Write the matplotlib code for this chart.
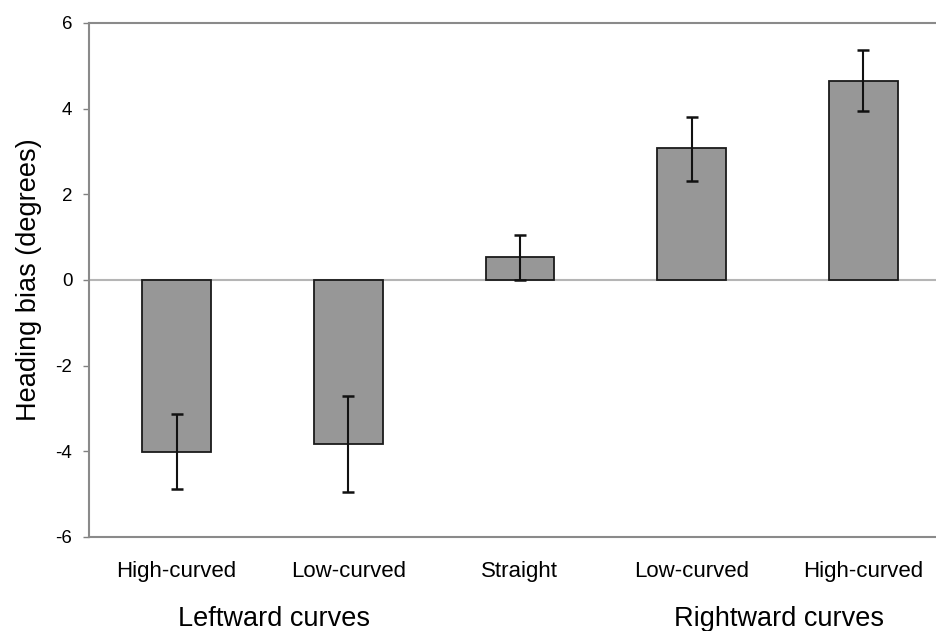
import matplotlib.pyplot as plt
import numpy as np

plt.rcParams['font.family'] = ['Liberation Sans', 'DejaVu Sans']

# data
categories = ['High-curved', 'Low-curved', 'Straight', 'Low-curved', 'High-curved']
bias = [-4.01, -3.84, 0.53, 3.07, 4.65]
err_up = [0.87, 1.12, 0.53, 0.74, 0.72]
err_down = [0.87, 1.11, 0.53, 0.76, 0.71]
groups = ['Leftward curves', 'Rightward curves']
group_pos = [0.57, 3.51]
yticks = [-6, -4, -2, 0, 2, 4, 6]

fig = plt.figure(figsize=(9.37, 6.31), dpi=100)
ax = fig.add_axes([0.095, 0.149, 0.905, 0.8147])

x = np.arange(len(categories))
ax.bar(x, bias, width=0.4, color='#979797', edgecolor='#1a1a1a', linewidth=1.3, zorder=3)
ax.errorbar(x, bias, yerr=[err_down, err_up], fmt='none', ecolor='#111111',
            elinewidth=1.5, capsize=4, capthick=1.8, zorder=4)
ax.axhline(0, color='#b5b5b5', linewidth=1.5, zorder=2)

ax.set_xlim(-0.51, 4.43)
ax.set_ylim(-6, 6)
ax.set_yticks(yticks)
ax.set_yticklabels([str(t) for t in yticks], fontsize=13.5)
ax.set_xticks(x)
ax.set_xticklabels(categories, fontsize=16)
ax.tick_params(axis='x', length=0, pad=17)
ax.tick_params(axis='y', length=4, width=1, color='#808080', pad=8)

for side in ['left', 'top', 'bottom']:
    ax.spines[side].set_color('#8a8a8a')
    ax.spines[side].set_linewidth(1.5)
ax.spines['right'].set_visible(False)

ax.set_ylabel('Heading bias (degrees)', fontsize=19.5, labelpad=10)

trans = ax.get_xaxis_transform()
for g, p in zip(groups, group_pos):
    ax.text(p, -0.173, g, transform=trans, ha='center', va='baseline', fontsize=19.5)

fig.savefig('out.png', dpi=100)
